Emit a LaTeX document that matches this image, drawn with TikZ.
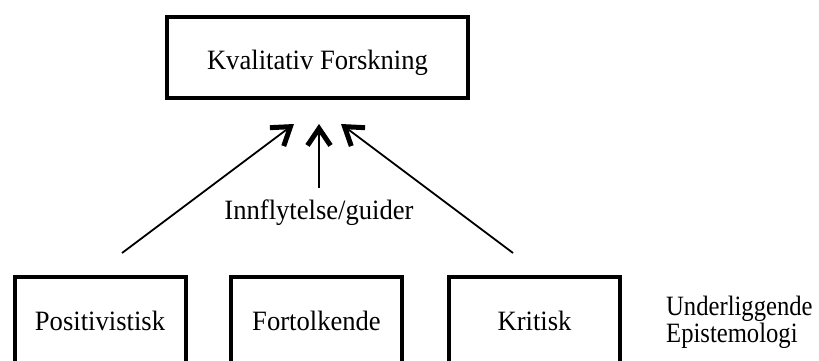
\documentclass[tikz,border=0pt]{standalone}
\usepackage{fontspec}
\setmainfont[FakeStretch=0.95]{Liberation Serif}
\newfontfamily\sidefont[FakeStretch=0.88]{Liberation Serif}
\usetikzlibrary{arrows.meta}
\begin{document}
\begin{tikzpicture}[x=1pt,y=-1pt,
  txt/.style={font=\fontsize{28}{28}\selectfont, inner sep=0pt},
  sidetxt/.style={font=\sidefont\fontsize{28}{28}\selectfont, inner sep=0pt},
  topbox/.style={draw, line width=4pt, txt, minimum width=301pt, minimum height=81pt, text height=25pt, text depth=0pt},
  epibox/.style={draw, line width=4pt, txt, minimum width=171pt, minimum height=108pt, text height=20pt, text depth=21pt},
  infl/.style={line width=1.8pt, -{Straight Barb[length=17pt, width=23pt, line width=5pt]}}
]
\useasboundingbox (0,0) rectangle (819,361);
\clip (0,0) rectangle (819,361);
\node[topbox] (kf) at (317.5,57.5) {Kvalitativ Forskning};
\node[epibox] (pos) at (100,331) {Positivistisk};
\node[epibox] (fort) at (316.5,331) {Fortolkende};
\node[epibox] (krit) at (534.5,331) {Kritisk};
\node[sidetxt, anchor=base west] (ul1) at (666,315) {Underliggende};
\node[sidetxt, anchor=base west] (ul2) at (666,342) {Epistemologi};
\node[txt, anchor=base] (lab) at (319,219) {Innflytelse/guider};
\coordinate (a1s) at (122,253);
\coordinate (a1t) at (294,124);
\coordinate (a2s) at (319,188);
\coordinate (a2t) at (319,124);
\coordinate (a3s) at (513,253);
\coordinate (a3t) at (341,124);
\draw[infl] (a1s) -- (a1t);
\draw[infl] (a2s) -- (a2t);
\draw[infl] (a3s) -- (a3t);
\end{tikzpicture}
\end{document}
